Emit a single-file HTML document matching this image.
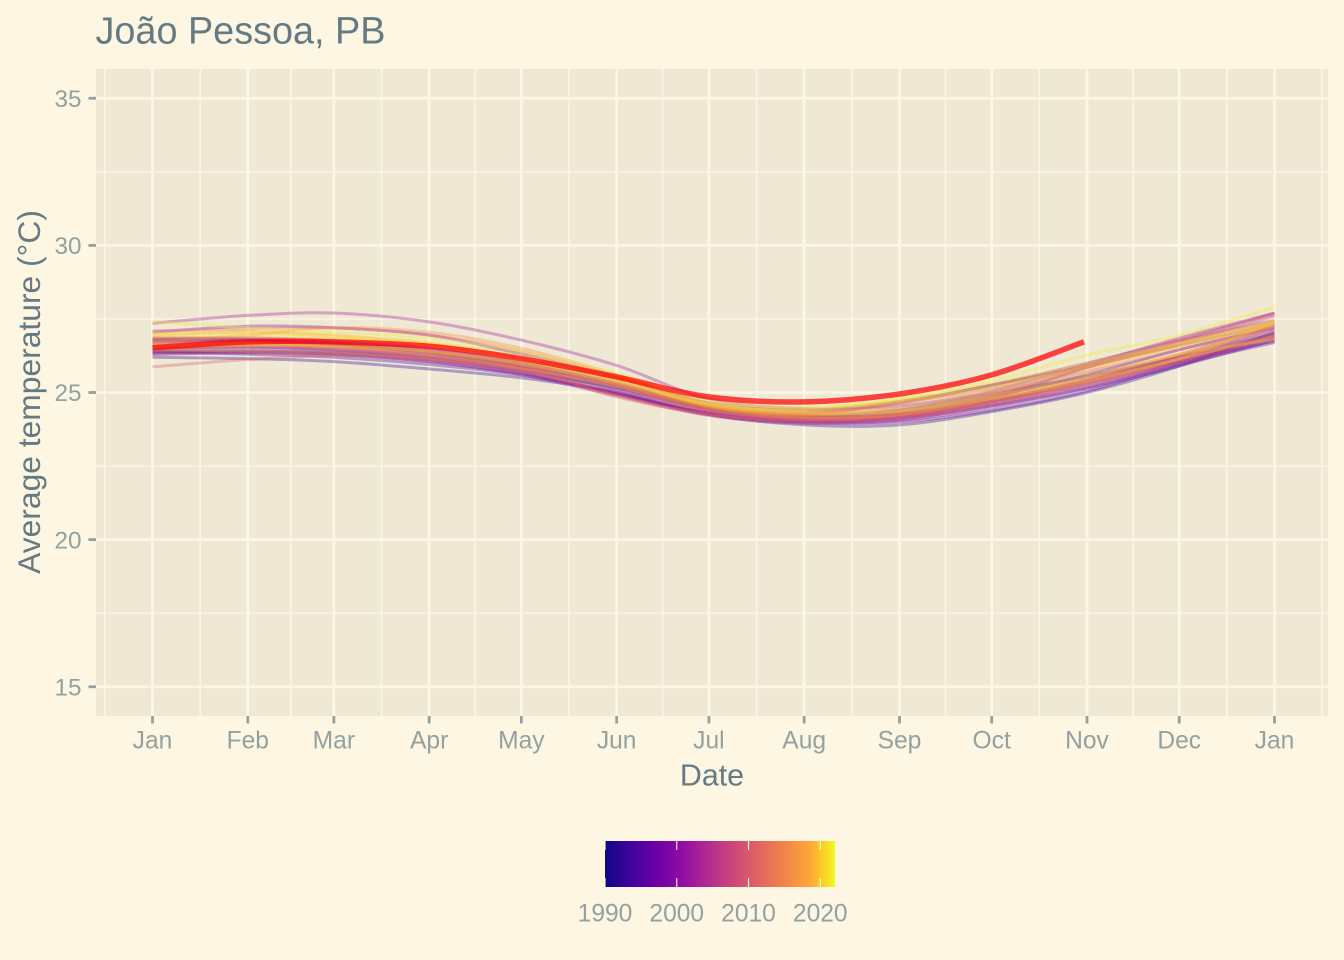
<!DOCTYPE html>
<html lang="pt">
<head>
<meta charset="utf-8">
<title>João Pessoa, PB</title>
<style>
html,body{margin:0;padding:0;background:#fdf6e3;}
svg{display:block;}
text{font-family:"Liberation Sans",sans-serif;}
</style>
</head>
<body>
<svg id="chart" width="1344" height="960" viewBox="0 0 1344 960" xmlns="http://www.w3.org/2000/svg">
<defs>
<linearGradient id="plasma-gradient" x1="0" x2="1" y1="0" y2="0">
<stop offset="0" stop-color="#0d0887"/><stop offset="0.111" stop-color="#41049d"/><stop offset="0.222" stop-color="#6a00a8"/><stop offset="0.333" stop-color="#8f0da4"/><stop offset="0.444" stop-color="#b12a90"/><stop offset="0.556" stop-color="#cc4778"/><stop offset="0.667" stop-color="#e16462"/><stop offset="0.778" stop-color="#f1844b"/><stop offset="0.889" stop-color="#fca636"/><stop offset="0.95" stop-color="#fccf25"/><stop offset="1" stop-color="#f0f921"/>
</linearGradient>
</defs>
<rect x="0" y="0" width="1344" height="960" fill="#fdf6e3"/>
<rect x="96" y="69" width="1232" height="647" fill="#eee8d5"/>
<g id="grid"></g>
<g id="axes"></g>
<g id="series"></g>
<text x="95.5" y="43.5" font-size="37.8" fill="#657b83">João Pessoa, PB</text>
<text x="712" y="785.5" font-size="30.4" fill="#657b83" text-anchor="middle">Date</text>
<text transform="translate(40 392) rotate(-90)" font-size="31.8" fill="#657b83" text-anchor="middle">Average temperature (°C)</text>
<g id="legend">
<rect x="605" y="841" width="230" height="46" fill="url(#plasma-gradient)"/>
</g>
</svg>
<script>
// Axis data
const monthLabels = ["Jan","Feb","Mar","Apr","May","Jun","Jul","Aug","Sep","Oct","Nov","Dec","Jan"];
const monthDays = [0,31,59,90,120,151,181,212,243,273,304,334,365];
const yTicks = [15,20,25,30,35];
const yMinorTicks = [17.5,22.5,27.5,32.5];
const legendYears = [1990,2000,2010,2020];
const currentYearDays = [0,31,59,90,120,151,181,212,243,273,303];

// Smoothed average temperature per year, read at each month start (°C)
const y1990 = [26.35,26.40,26.35,26.15,25.75,25.15,24.45,24.20,24.40,24.95,25.55,26.20,27.00];
const y1991 = [26.70,26.75,26.60,26.35,25.90,25.25,24.45,24.15,24.25,24.75,25.40,26.10,26.95];
const y1992 = [26.20,26.15,26.05,25.80,25.50,25.00,24.25,23.90,23.90,24.35,25.00,25.90,27.05];
const y1993 = [26.40,26.30,26.20,25.95,25.60,25.00,24.25,24.00,24.10,24.55,25.15,25.90,26.80];
const y1994 = [26.80,26.80,26.65,26.35,25.95,25.30,24.50,24.20,24.30,24.85,25.60,26.45,27.20];
const y1995 = [26.50,26.55,26.45,26.20,25.80,25.10,24.35,24.05,24.20,24.70,25.35,26.05,26.75];
const y1996 = [26.30,26.35,26.30,26.05,25.65,24.95,24.30,24.00,24.00,24.40,25.05,25.95,26.70];
const y1997 = [26.85,26.85,26.75,26.50,26.00,25.35,24.55,24.30,24.65,25.25,25.90,26.60,27.35];
const y1998 = [27.05,27.25,27.20,26.95,26.30,25.50,24.65,24.40,24.70,25.25,26.00,26.75,27.45];
const y1999 = [26.45,26.50,26.40,26.15,25.70,24.95,24.30,24.05,24.15,24.60,25.25,26.00,26.90];
const y2000 = [26.40,26.40,26.30,26.05,25.60,24.90,24.22,23.95,24.05,24.50,25.15,26.00,26.85];
const y2001 = [27.35,27.62,27.70,27.40,26.78,25.92,24.78,24.45,24.55,25.05,25.95,26.85,27.70];
const y2002 = [26.75,26.80,26.70,26.45,26.00,25.30,24.50,24.15,24.25,24.80,25.85,26.75,27.70];
const y2003 = [26.55,26.60,26.50,26.25,25.80,24.95,24.25,24.00,24.15,24.70,25.40,26.20,27.15];
const y2004 = [26.85,26.80,26.65,26.40,25.90,25.20,24.40,24.10,24.30,24.90,25.85,26.65,27.60];
const y2005 = [26.65,26.75,26.70,26.40,25.95,25.20,24.40,24.15,24.20,24.70,25.40,26.25,27.25];
const y2006 = [26.30,26.35,26.30,26.10,25.70,25.05,24.35,24.10,24.25,24.75,25.45,26.20,27.10];
const y2007 = [26.60,26.65,26.55,26.30,25.85,25.20,24.40,24.10,24.20,24.65,25.30,26.10,27.00];
const y2008 = [25.87,26.12,26.25,26.15,25.75,24.85,24.25,24.00,24.10,24.60,25.25,26.00,26.85];
const y2009 = [26.75,26.70,26.50,26.25,25.85,25.25,24.50,24.25,24.45,25.00,25.70,26.45,27.30];
const y2010 = [27.10,27.15,27.20,26.95,26.40,25.55,24.60,24.25,24.65,25.15,25.95,26.80,27.65];
const y2011 = [26.45,26.55,26.50,26.25,25.80,24.90,24.25,24.05,24.20,24.70,25.35,26.10,26.95];
const y2012 = [26.60,26.65,26.60,26.40,25.95,25.30,24.50,24.20,24.35,24.90,25.55,26.30,27.30];
const y2013 = [26.70,26.95,27.20,27.05,26.50,25.60,24.55,24.15,24.25,24.80,25.50,26.30,27.25];
const y2014 = [26.45,26.40,26.35,26.15,25.80,25.20,24.40,24.15,24.25,24.75,25.40,26.15,26.90];
const y2015 = [26.85,26.85,26.80,26.60,26.15,25.45,24.55,24.30,24.65,25.15,25.85,26.65,27.40];
const y2016 = [26.95,27.05,26.95,26.65,26.15,25.45,24.55,24.35,24.50,25.00,25.75,26.55,27.30];
const y2017 = [26.65,26.65,26.55,26.35,25.95,25.30,24.50,24.25,24.40,24.90,25.55,26.30,26.80];
const y2018 = [26.55,26.60,26.60,26.40,26.00,25.35,24.60,24.30,24.35,24.80,25.40,26.15,27.40];
const y2019 = [27.00,27.05,26.90,26.70,26.25,25.55,24.65,24.45,24.75,25.30,26.00,26.70,27.45];
const y2020 = [26.90,26.95,26.90,26.65,26.10,25.40,24.60,24.40,24.70,25.20,25.90,26.60,27.35];
const y2021 = [27.40,27.20,27.05,26.85,26.40,25.65,24.75,24.50,24.80,25.40,26.27,26.95,27.90];
const y2022 = [26.52,26.72,26.72,26.57,26.15,25.53,24.85,24.68,24.95,25.60,26.72];

const yearNames = [1990,1991,1992,1993,1994,1995,1996,1997,1998,1999,2000,2001,2002,2003,2004,2005,2006,2007,2008,2009,2010,2011,2012,2013,2014,2015,2016,2017,2018,2019,2020,2021];
const yearSeries = [y1990,y1991,y1992,y1993,y1994,y1995,y1996,y1997,y1998,y1999,y2000,y2001,y2002,y2003,y2004,y2005,y2006,y2007,y2008,y2009,y2010,y2011,y2012,y2013,y2014,y2015,y2016,y2017,y2018,y2019,y2020,y2021];

const NS = "http://www.w3.org/2000/svg";
const xDay = d => 152.5 + d * (1274.5 - 152.5) / 365;
const yTemp = v => 392.5 - (v - 25) * (686.5 - 98) / 20;
const xYear = y => 605 + (y - 1990) * 7.175;

const plasmaStops = [[13,8,135],[65,4,157],[106,0,168],[143,13,164],[177,42,144],[204,71,120],[225,100,98],[241,132,75],[252,166,54],[252,207,37],[240,249,33]];
function plasma(t){
  const p = Math.max(0, Math.min(1, t)) * (plasmaStops.length - 1);
  const i = Math.min(Math.floor(p), plasmaStops.length - 2);
  const f = p - i;
  const c = plasmaStops[i].map((a, k) => Math.round(a + (plasmaStops[i + 1][k] - a) * f));
  return "rgb(" + c.join(",") + ")";
}
function curvePath(days, vals){
  const pts = vals.map((v, i) => [xDay(days[i]), yTemp(v)]);
  let d = "M" + pts[0][0].toFixed(2) + " " + pts[0][1].toFixed(2);
  for (let i = 0; i < pts.length - 1; i++) {
    const p0 = pts[Math.max(i - 1, 0)], p1 = pts[i], p2 = pts[i + 1], p3 = pts[Math.min(i + 2, pts.length - 1)];
    const c1x = p1[0] + (p2[0] - p0[0]) / 6, c1y = p1[1] + (p2[1] - p0[1]) / 6;
    const c2x = p2[0] - (p3[0] - p1[0]) / 6, c2y = p2[1] - (p3[1] - p1[1]) / 6;
    d += "C" + c1x.toFixed(2) + " " + c1y.toFixed(2) + " " + c2x.toFixed(2) + " " + c2y.toFixed(2) + " " + p2[0].toFixed(2) + " " + p2[1].toFixed(2);
  }
  return d;
}
function svgEl(tag, parent, attrs){
  const el = document.createElementNS(NS, tag);
  for (const k in attrs) el.setAttribute(k, attrs[k]);
  parent.appendChild(el);
  return el;
}

const grid = document.getElementById("grid");
const axes = document.getElementById("axes");
const series = document.getElementById("series");
const legend = document.getElementById("legend");

// Minor gridlines
yMinorTicks.forEach(v => {
  const el = svgEl("line", grid, {x1:96, x2:1328, y1:yTemp(v), y2:yTemp(v), stroke:"#fdf6e3", "stroke-width":1.4});
  
  
});
for (let i = -1; i < monthDays.length; i++) {
  const x = i < 0 ? xDay(-15.5) : i === monthDays.length - 1 ? xDay(380.5) : xDay((monthDays[i] + monthDays[i + 1]) / 2);
  const el = svgEl("line", grid, {x1:x, x2:x, y1:69, y2:716, stroke:"#fdf6e3", "stroke-width":1.4});
  
  
}
// Major gridlines, ticks, labels
yTicks.forEach(v => {
  const y = yTemp(v);
  const g = svgEl("line", grid, {x1:96, x2:1328, y1:y, y2:y, stroke:"#fdf6e3", "stroke-width":2.8});
  
  
  const t = svgEl("line", axes, {x1:88.5, x2:96, y1:y, y2:y, stroke:"#93a1a1", "stroke-width":2.8});
  
  
  const l = svgEl("text", axes, {x:81.5, y:y + 8.7, "font-size":24.3, fill:"#93a1a1", "text-anchor":"end"});
  
  
  l.textContent = v;
});
monthDays.forEach((d, i) => {
  const x = xDay(d);
  const g = svgEl("line", grid, {x1:x, x2:x, y1:69, y2:716, stroke:"#fdf6e3", "stroke-width":2.8});
  
  
  const t = svgEl("line", axes, {x1:x, x2:x, y1:716, y2:723.5, stroke:"#93a1a1", "stroke-width":2.8});
  
  
  const l = svgEl("text", axes, {x:x, y:748.5, "font-size":24.6, fill:"#93a1a1", "text-anchor":"middle"});
  
  
  l.textContent = monthLabels[i];
});
// Year lines
yearSeries.forEach((vals, i) => {
  const p = svgEl("path", series, {d:curvePath(monthDays, vals), fill:"none", stroke:plasma((yearNames[i] - 1990) / 32), "stroke-width":3, "stroke-opacity":0.34, "stroke-linejoin":"round"});
  
  
});
const cur = svgEl("path", series, {d:curvePath(currentYearDays, y2022), fill:"none", stroke:"#ff0000", "stroke-width":5.5, "stroke-opacity":0.72, "stroke-linejoin":"round"});


// Legend
legendYears.forEach(yr => {
  const x = xYear(yr);
  const a = svgEl("line", legend, {x1:x, x2:x, y1:841, y2:850, stroke:"#ffffff", "stroke-width":1.2, "stroke-opacity":0.9});
  
  
  const b = svgEl("line", legend, {x1:x, x2:x, y1:878, y2:887, stroke:"#ffffff", "stroke-width":1.2, "stroke-opacity":0.9});
  
  
  const l = svgEl("text", legend, {x:x, y:921.5, "font-size":24.6, fill:"#93a1a1", "text-anchor":"middle"});
  
  
  l.textContent = yr;
});
</script>
</body>
</html>
